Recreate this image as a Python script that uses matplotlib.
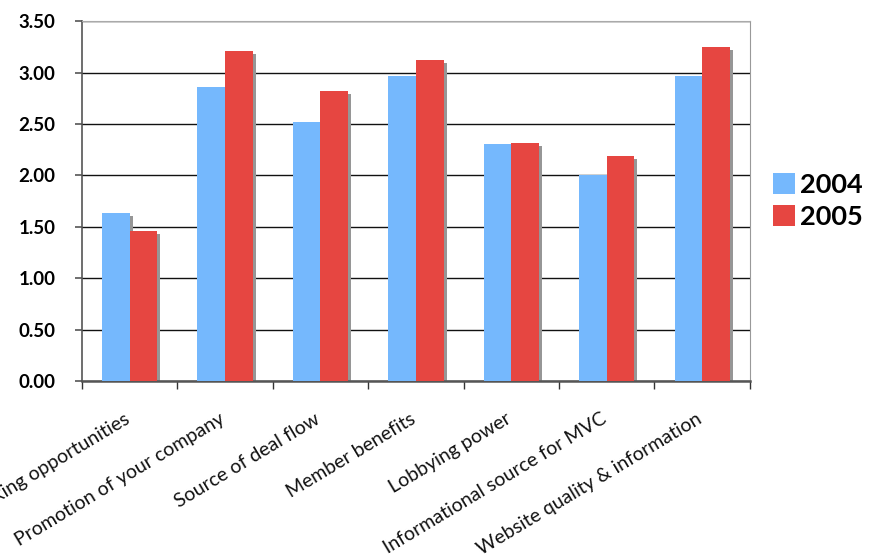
import numpy as np
import matplotlib
matplotlib.use('Agg')
import matplotlib.pyplot as plt
from matplotlib.transforms import offset_copy, ScaledTranslation

categories = ['Networking opportunities', 'Promotion of your company',
              'Source of deal flow', 'Member benefits', 'Lobbying power',
              'Informational source for MVC', 'Website quality & information']
values_2004 = [1.63, 2.86, 2.52, 2.97, 2.31, 2.00, 2.97]
values_2005 = [1.46, 3.21, 2.82, 3.12, 2.32, 2.19, 3.25]
series_labels = ['2004', '2005']
yticks = [0.0, 0.5, 1.0, 1.5, 2.0, 2.5, 3.0, 3.5]

BLUE = '#75b8fd'
RED = '#e64641'
SHADOW = '#969696'

plt.rcParams['font.family'] = ['Lato', 'DejaVu Sans']

fig = plt.figure(figsize=(8.7, 5.58), dpi=100)
ax = fig.add_axes([0.094, 0.317, 0.768, 0.645])

x = np.arange(len(categories))
w = 0.29

# shadows first, offset a few pixels right/down
shadow_tr = offset_copy(ax.transData, fig=fig, x=3, y=-3, units='dots')
for off, vals in ((-w / 2, values_2004), (w / 2, values_2005)):
    ax.bar(x + off, vals, w, color=SHADOW, transform=shadow_tr,
           zorder=2, linewidth=0)

b1 = ax.bar(x - w / 2, values_2004, w, color=BLUE, zorder=3,
            linewidth=0, label=series_labels[0])
b2 = ax.bar(x + w / 2, values_2005, w, color=RED, zorder=3,
            linewidth=0, label=series_labels[1])

ax.set_xlim(-0.5, len(categories) - 0.5)
ax.set_ylim(0, 3.5)
ax.set_yticks(yticks)
ax.set_yticklabels([f'{v:.2f}' for v in yticks], fontsize=13.5,
                   fontweight='bold')
ax.yaxis.grid(True, color='#111111', linewidth=1.0, zorder=1)
ax.set_axisbelow(True)

# category boundaries as ticks, labels as minor ticks
ax.set_xticks(np.arange(-0.5, len(categories), 1.0))
ax.set_xticklabels([])
ax.tick_params(axis='x', which='major', length=6, direction='out',
               color='#333333', width=1)
ax.tick_params(axis='y', length=5, direction='out', color='#555555',
               width=1.2, pad=14)
ax.set_xticks(x, minor=True)
ax.set_xticklabels(categories, minor=True, rotation=31, ha='right',
                   rotation_mode='anchor', fontsize=14, color='#111111')
ax.tick_params(axis='x', which='minor', length=0, pad=21)

shift = ScaledTranslation(-6 / 100, 0, fig.dpi_scale_trans)
for lbl in ax.get_xticklabels(minor=True):
    lbl.set_transform(lbl.get_transform() + shift)

ax.spines['top'].set_color('#aaaaaa')
ax.spines['right'].set_color('#999999')
ax.spines['left'].set_color('#555555')
ax.spines['left'].set_linewidth(1.2)
ax.spines['bottom'].set_color('#555555')
ax.spines['bottom'].set_linewidth(1.8)

leg = fig.legend(handles=[b1, b2], loc='center left',
                 bbox_to_anchor=(0.876, 0.64), frameon=False,
                 prop={'size': 19.5, 'weight': 'bold'},
                 handlelength=0.8, handleheight=0.8, handletextpad=0.2,
                 labelspacing=0.3, borderaxespad=0)

fig.savefig('out.png', dpi=100)
plt.close(fig)
